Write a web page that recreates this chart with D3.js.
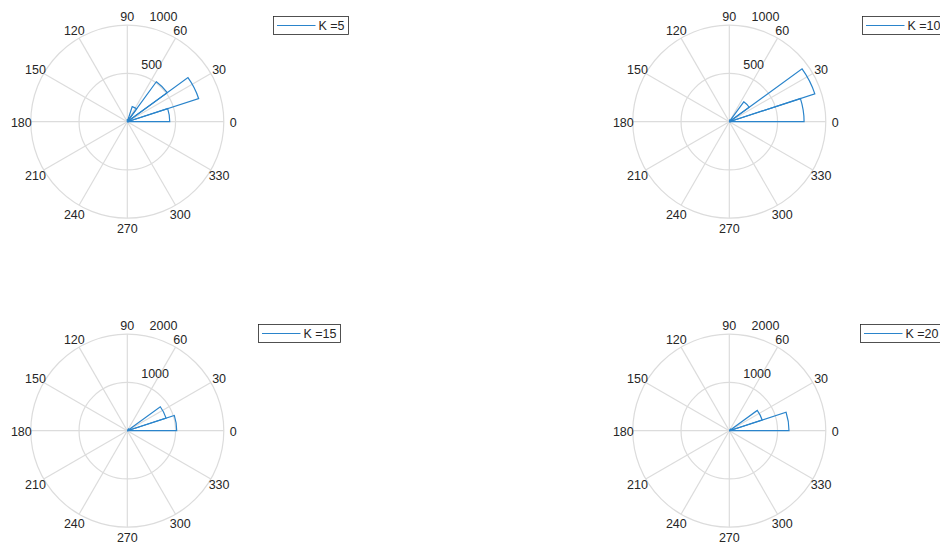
<!DOCTYPE html>
<html>
<head>
<meta charset="utf-8">
<script src="https://cdn.jsdelivr.net/npm/d3@7"></script>
<style>
  html, body { margin: 0; padding: 0; background: #fff; }
  svg { display: block; }
  text { font-family: "Liberation Sans", Arial, Helvetica, sans-serif; fill: #262626; }
</style>
</head>
<body>
<svg id="chart" width="940" height="545"></svg>
<script>
// ---- data ----
const binEdgesDeg = [0,18,36,54,72,90,108,126,144,162,180,198,216,234,252,270,288,306,324,342,360];
const panelLabels = ["K =5", "K =10", "K =15", "K =20"];
const countsK5  = [440, 777, 512, 165, 22, 0, 0, 0, 0, 0, 0, 0, 0, 0, 0, 0, 0, 0, 0, 8];
const countsK10 = [775, 932, 255, 20, 0, 0, 0, 0, 0, 0, 0, 0, 0, 0, 0, 0, 0, 0, 0, 8];
const countsK15 = [1024, 845, 45, 0, 0, 0, 0, 0, 0, 0, 0, 0, 0, 0, 0, 0, 0, 0, 0, 10];
const countsK20 = [1237, 716, 40, 0, 0, 0, 0, 0, 0, 0, 0, 0, 0, 0, 0, 0, 0, 0, 0, 10];
const rMaxes = [1000, 1000, 2000, 2000];
const rTicks = [[500, 1000], [500, 1000], [1000, 2000], [1000, 2000]];
const thetaTicks = [0, 30, 60, 90, 120, 150, 180, 210, 240, 270, 300, 330];

const allCounts = [countsK5, countsK10, countsK15, countsK20];

// ---- layout ----
const panels = [
  { cx: 127.3, cy: 121.7, legend: { x: 273.5, y: 16.5, w: 75 } },
  { cx: 729.3, cy: 121.7, legend: { x: 862.5, y: 16.5, w: 84 } },
  { cx: 127.3, cy: 430.7, legend: { x: 258.5, y: 324.5, w: 82 } },
  { cx: 729.3, cy: 430.7, legend: { x: 860.5, y: 324.5, w: 84 } }
];
const R = 96.5;
const gridColor = "#dcdcdc";
const barColor = "#2a84cb";

const svg = d3.select("#chart");

panels.forEach((p, i) => {
  const g = svg.append("g").attr("transform", `translate(${p.cx},${p.cy})`);
  const r = d3.scaleLinear().domain([0, rMaxes[i]]).range([0, R]);
  const theta = d3.scaleLinear().domain([0, 360]).range([0, 2 * Math.PI]);

  // spokes
  g.selectAll("line.spoke").data(thetaTicks).enter().append("line")
    .attr("x1", 0).attr("y1", 0)
    .attr("x2", d => R * Math.cos(theta(d)))
    .attr("y2", d => -R * Math.sin(theta(d)))
    .attr("stroke", gridColor).attr("stroke-width", 1.2);

  // circles
  g.selectAll("circle.ring").data(rTicks[i]).enter().append("circle")
    .attr("r", d => r(d)).attr("fill", "none")
    .attr("stroke", gridColor).attr("stroke-width", 1.2);

  // bars (outline)
  const arc = d3.arc().innerRadius(0);
  const bins = allCounts[i].map((c, k) => ({ a0: binEdgesDeg[k], a1: binEdgesDeg[k + 1], c }));
  g.selectAll("path.bar").data(bins.filter(b => b.c > 0)).enter().append("path")
    .attr("d", b => arc({
      outerRadius: r(b.c),
      startAngle: Math.PI / 2 - theta(b.a1),
      endAngle: Math.PI / 2 - theta(b.a0)
    }))
    .attr("fill", "none").attr("stroke", barColor).attr("stroke-width", 1.2)
    .attr("stroke-linejoin", "miter");

  // theta labels
  g.selectAll("text.tl").data(thetaTicks).enter().append("text")
    .attr("x", d => 106 * Math.cos(theta(d)))
    .attr("y", d => -106 * Math.sin(theta(d)) + 1.5)
    .attr("text-anchor", "middle").attr("dominant-baseline", "central")
    .attr("font-size", 12.5)
    .text(d => d);

  // r labels at 80 degrees
  const ra = theta(80);
  g.selectAll("text.rl").data(rTicks[i]).enter().append("text")
    .attr("x", d => r(d) * Math.cos(ra) + 5.5)
    .attr("y", d => -r(d) * Math.sin(ra) - 5.5)
    .attr("text-anchor", "start")
    .attr("font-size", 12.5)
    .text(d => d);

  // legend
  const L = p.legend;
  const lg = svg.append("g").attr("transform", `translate(${L.x},${L.y})`);
  lg.append("rect").attr("width", L.w).attr("height", 18)
    .attr("fill", "#fff").attr("stroke", "#262626").attr("stroke-width", 0.8);
  lg.append("line").attr("x1", 3.5).attr("x2", 42).attr("y1", 9).attr("y2", 9)
    .attr("stroke", barColor).attr("stroke-width", 1.2);
  lg.append("text").attr("x", 45).attr("y", 13.3).attr("font-size", 12.5)
    .text(panelLabels[i]);
});
</script>
</body>
</html>
